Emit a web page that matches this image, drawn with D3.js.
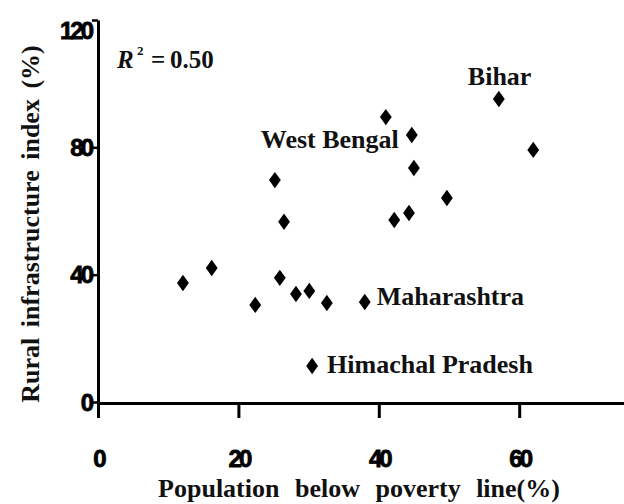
<!DOCTYPE html>
<html>
<head>
<meta charset="utf-8">
<script src="https://cdn.jsdelivr.net/npm/d3@7"></script>
<style>
  html, body { margin: 0; padding: 0; background: #fff; }
  svg { display: block; }
</style>
</head>
<body>
<svg id="chart" width="624" height="504"></svg>
<script>
// ---- Data ----
const povertyPct = [12.1, 16.2, 22.4, 25.2, 25.9, 26.5, 28.2, 30.1, 32.6, 38.0, 30.5, 41.0, 44.7, 45.0, 42.2, 44.3, 49.7, 57.1, 62.0];
const infraIndex = [37.4, 42.1, 30.5, 69.7, 39.0, 56.6, 33.9, 34.9, 31.1, 31.4, 11.3, 89.5, 83.9, 73.5, 57.2, 59.4, 64.1, 95.2, 79.2];
const stateNames = ["", "", "", "", "", "", "", "", "", "Maharashtra", "Himachal Pradesh", "", "West Bengal", "", "", "", "", "Bihar", ""];
const xTicks = [0, 20, 40, 60];
const yTicks = [0, 40, 80, 120];
const xTitle = "Population below poverty line(%)";
const yTitle = "Rural infrastructure index (%)";
const r2Value = "0.50";

// ---- Layout ----
const svg = d3.select("#chart");
const x = d3.scaleLinear().domain([0, 75]).range([98, 624.5]);
const y = d3.scaleLinear().domain([0, 120]).range([402, 20]);

const serif = "'Liberation Serif', 'Times New Roman', serif";
const sans = "'Liberation Sans', Arial, sans-serif";

// X axis
const xAxis = svg.append("g")
  .attr("transform", `translate(0,${y(0) + 1})`)
  .call(d3.axisBottom(x).tickValues(xTicks).tickSize(15).tickSizeOuter(0).tickFormat(d3.format("d")));
xAxis.select(".domain").attr("stroke", "#000").attr("stroke-width", 3);
xAxis.selectAll(".tick line").attr("stroke", "#000").attr("stroke-width", 3);
xAxis.selectAll(".tick text")
  .attr("y", 47).attr("dy", "0.71em")
  .attr("font-family", sans).attr("font-weight", "bold").attr("font-size", 24)
  .attr("letter-spacing", -3).attr("fill", "#000")
  .attr("stroke", "#000").attr("stroke-width", 0.8);

// Y axis
const yAxis = svg.append("g")
  .attr("transform", `translate(${x(0)},0)`)
  .call(d3.axisLeft(y).tickValues(yTicks).tickSize(6).tickSizeOuter(0).tickPadding(1).tickFormat(d3.format("d")));
yAxis.select(".domain").attr("stroke", "#000").attr("stroke-width", 3);
yAxis.selectAll(".tick line").attr("stroke", "#000").attr("stroke-width", 2.5);
yAxis.selectAll(".tick text")
  .attr("font-family", sans).attr("font-weight", "bold").attr("font-size", 24)
  .attr("letter-spacing", -3).attr("fill", "#000")
  .attr("stroke", "#000").attr("stroke-width", 0.8)
  .attr("dy", d => d === 120 ? "0.75em" : "0.34em");

// Diamond markers (custom symbol type)
const tallDiamond = {
  draw(ctx, size) {
    const h = Math.sqrt(size) / 2;
    const w = h * 0.72;
    ctx.moveTo(0, -h); ctx.lineTo(w, 0); ctx.lineTo(0, h); ctx.lineTo(-w, 0); ctx.closePath();
  }
};
const pts = povertyPct.map((v, i) => ({ x: v, y: infraIndex[i], name: stateNames[i] }));
svg.append("g").selectAll("path").data(pts).join("path")
  .attr("transform", d => `translate(${x(d.x)},${y(d.y)})`)
  .attr("d", d3.symbol().type(tallDiamond).size(270))
  .attr("fill", "#000");

// State labels
const labelOffset = {
  "Bihar": { dx: -31, dy: -14, anchor: "start" },
  "West Bengal": { dx: -13, dy: 13, anchor: "end" },
  "Maharashtra": { dx: 12, dy: 3, anchor: "start" },
  "Himachal Pradesh": { dx: 15, dy: 7, anchor: "start" }
};
svg.append("g").selectAll("text").data(pts.filter(d => d.name)).join("text")
  .attr("x", d => x(d.x) + labelOffset[d.name].dx)
  .attr("y", d => y(d.y) + labelOffset[d.name].dy)
  .attr("text-anchor", d => labelOffset[d.name].anchor)
  .attr("font-family", serif).attr("font-weight", "bold").attr("font-size", 26)
  .attr("fill", "#111")
  .text(d => d.name);

// R^2 annotation
const r2 = svg.append("text")
  .attr("y", 68)
  .attr("font-family", serif).attr("font-weight", "bold").attr("font-size", 25).attr("fill", "#111");
r2.append("tspan").attr("x", 117).attr("font-style", "italic").text("R");
r2.append("tspan").attr("x", 137).attr("dy", -13).attr("font-size", 13).text("2");
r2.append("tspan").attr("x", 151).attr("dy", 13).text("=");
r2.append("tspan").attr("x", 170).text(r2Value);

// Axis titles
svg.append("text")
  .attr("x", 359).attr("y", 497)
  .attr("text-anchor", "middle")
  .attr("font-family", serif).attr("font-weight", "bold").attr("font-size", 26)
  .attr("word-spacing", 9).attr("fill", "#111")
  .text(xTitle);

svg.append("text")
  .attr("transform", "translate(39,224) rotate(-90)")
  .attr("text-anchor", "middle")
  .attr("font-family", serif).attr("font-weight", "bold").attr("font-size", 26)
  .attr("word-spacing", 4).attr("fill", "#111")
  .text(yTitle);
</script>
</body>
</html>
